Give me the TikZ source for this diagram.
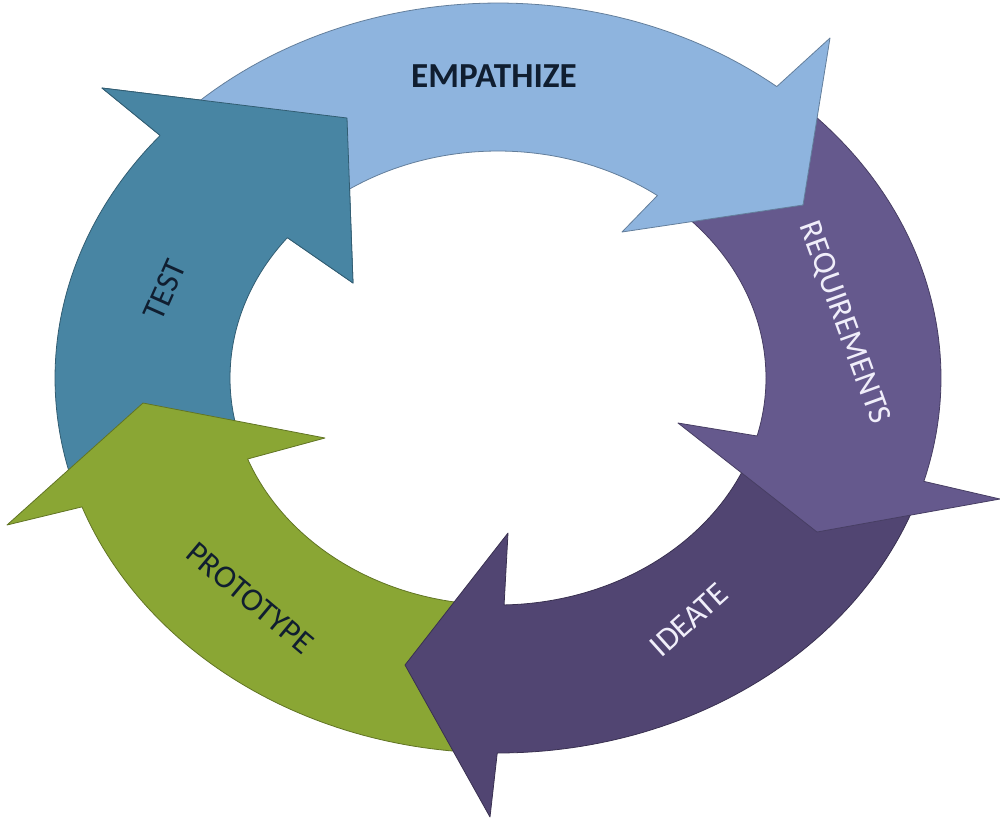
\documentclass[tikz,border=0pt]{standalone}
\usepackage{fontspec}
\setmainfont{Carlito}
\definecolor{empfill}{RGB}{142,180,222}
\definecolor{reqfill}{RGB}{101,89,141}
\definecolor{idefill}{RGB}{81,69,114}
\definecolor{profill}{RGB}{138,166,52}
\definecolor{tstfill}{RGB}{72,133,163}
\definecolor{darktext}{RGB}{16,30,48}
\definecolor{lighttext}{RGB}{240,238,250}
\tikzset{
  arrowpart/.style={line width=0.45pt, line join=round, samples=60},
  steplabel/.style={inner sep=0pt, font=\fontsize{18.5}{20}\selectfont},
}
\newcommand\cyclearrow[8]{%
  \coordinate (#1-bo) at ({498+443*cos(#4)},{378-375*sin(#4)});
  \coordinate (#1-bi) at ({498+268*cos(#5)},{378-227*sin(#5)});
  \coordinate (#1-wo) at (#6);
  \coordinate (#1-tip) at (#7);
  \coordinate (#1-wi) at (#8);
  \filldraw[arrowpart, fill=#2, draw=#2!70!black]
    plot[domain=#3:#4] ({498+443*cos(\x)},{378-375*sin(\x)})
    -- (#1-wo) -- (#1-tip) -- (#1-wi) -- (#1-bi)
    -- plot[domain=#5:#3] ({498+268*cos(\x)},{378-227*sin(\x)}) -- cycle;}
\begin{document}
\begin{tikzpicture}[x=0.02cm, y=-0.02cm]
\useasboundingbox (0,0) rectangle (1000,822);
\cyclearrow{tst}{tstfill}{197}{139.7}{141.8}{102,88}{347,118}{353,283}
\cyclearrow{pro}{profill}{267}{200.1}{200.9}{7,525}{143,403}{325,438}
\cyclearrow{ide}{idefill}{-19}{-90.1}{-88.7}{490,817}{405,665}{508,533}
\cyclearrow{req}{reqfill}{48}{-16}{-14.8}{1000,499}{817,532}{678,423}
\cyclearrow{emp}{empfill}{137}{51}{53.5}{830,38}{803,205}{622,232}
\fill[tstfill] (tst-bo) -- (tst-wo) -- (tst-tip) -- (tst-wi) -- (tst-bi) -- cycle;
\draw[arrowpart, draw=tstfill!70!black] (tst-bo) -- (tst-wo) -- (tst-tip) -- (tst-wi) -- (tst-bi);
\node[steplabel, text=darktext, font=\fontsize{20}{22}\selectfont\bfseries] (empathize) at (494,76) {EMPATHIZE};
\node[steplabel, text=lighttext, rotate=-70] (requirements) at (844,323) {REQUIREMENTS};
\node[steplabel, text=lighttext, rotate=42] (ideate) at (689,620) {IDEATE};
\node[steplabel, text=darktext, rotate=-40] (prototype) at (250,598) {PROTOTYPE};
\node[steplabel, text=darktext, rotate=66] (test) at (165,290) {TEST};
\end{tikzpicture}
\end{document}
